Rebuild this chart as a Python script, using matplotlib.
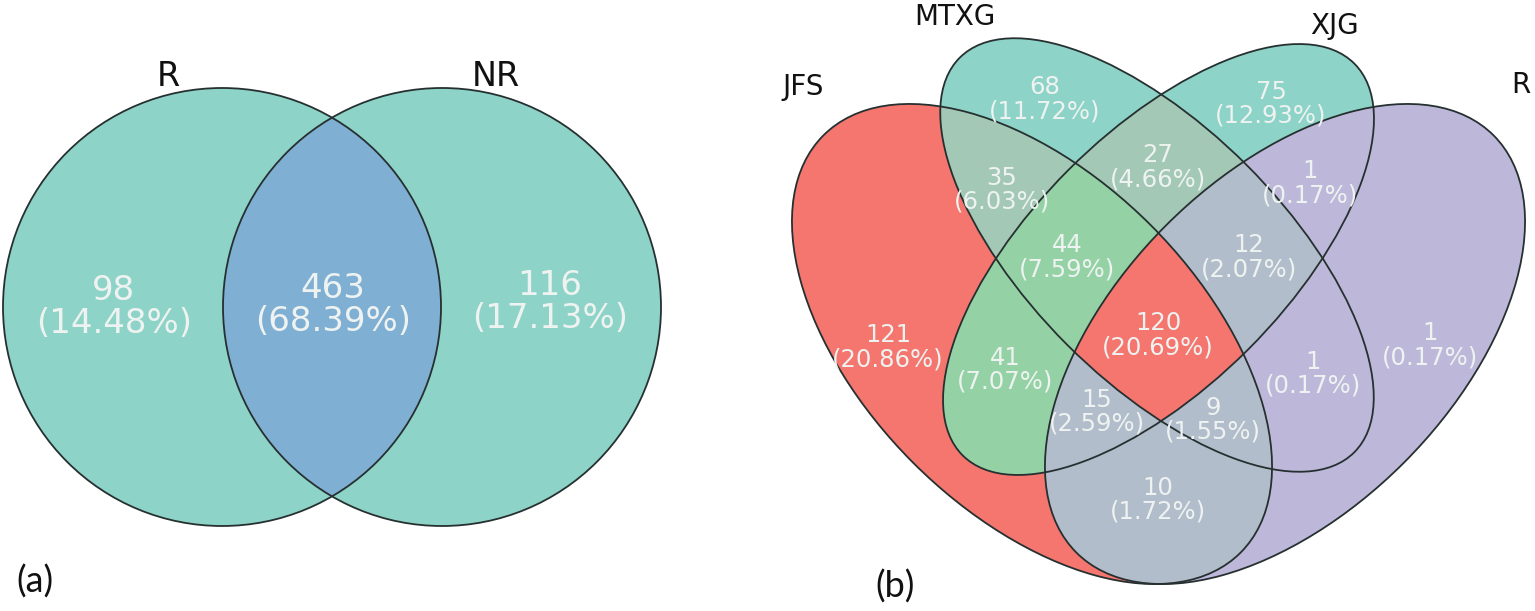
import numpy as np
import matplotlib
matplotlib.use("Agg")
import matplotlib.pyplot as plt
from matplotlib.patches import Circle, Ellipse

# ---- data ----
# panel (a): R only, R & NR, NR only
names_a = ["R", "NR"]
counts_a = [98, 463, 116]

# panel (b): membership keys in order (JFS, MTXG, XJG, R)
names_b = ["JFS", "MTXG", "XJG", "R"]
regions_b = ["1000", "0100", "0010", "0001", "1100", "0110", "0011", "1110",
             "0111", "1111", "1010", "0101", "1011", "1101", "1001"]
counts_b = [121, 68, 75, 1, 35, 27, 1, 44, 12, 120, 41, 1, 15, 9, 10]

# ---- style / layout (pixel units, y down) ----
W, H = 1535, 611
TXT = "#eef3f1"
EDGE = "#263030"

red = "#f4766e"
teal = "#8dd3c7"
green = "#94d2a6"
greygreen = "#a3c8b6"
bluegrey = "#b2bdcb"
lav = "#bdb8da"
region_color = {"1000": red, "0100": teal, "0010": teal, "0001": lav,
                "1100": greygreen, "0110": greygreen, "0011": lav,
                "1110": green, "0111": bluegrey, "1111": red, "1010": green,
                "0101": lav, "1011": bluegrey, "1101": bluegrey, "1001": bluegrey}
label_pos_b = {"1000": (888, 347), "0100": (1045, 99), "0010": (1271, 104),
               "0001": (1430, 345), "1100": (1002, 190), "0110": (1158, 167),
               "0011": (1310, 183), "1110": (1067, 257), "0111": (1249, 257),
               "1111": (1158, 335), "1010": (1005, 370), "0101": (1313, 374),
               "1011": (1097, 412), "1101": (1213, 420), "1001": (1158, 500)}
# ellipses: centre x, centre y, semi-major, semi-minor, angle (data coords, y down)
ellipses = [(1032, 344, 295, 168, 45),
            (1157, 255, 279, 127, 45),
            (1158.5, 259.5, 277, 127, 135),
            (1285, 344, 295, 168, 135)]
name_pos_b = [(803, 87), (955, 17), (1334, 26), (1521, 85)]

circles = [(222, 307, 219), (442, 307, 219)]


def inside(X, Y, e):
    cx, cy, a, b, ang = e
    t = np.deg2rad(ang)
    dx, dy = X - cx, Y - cy
    p = dx * np.cos(t) + dy * np.sin(t)
    q = -dx * np.sin(t) + dy * np.cos(t)
    return (p / a) ** 2 + (q / b) ** 2 <= 1.0


fig = plt.figure(figsize=(W / 100, H / 100), dpi=100)
ax = fig.add_axes([0, 0, 1, 1])
ax.set_axis_off()

# ---- panel (a) ----
for cx, cy, r in circles:
    ax.add_patch(Circle((cx, cy), r, facecolor=teal, edgecolor="none", zorder=1))
lens = Circle(circles[1][:2], circles[1][2], facecolor="#7fafd3", edgecolor="none", zorder=2)
clip = Circle(circles[0][:2], circles[0][2], transform=ax.transData)
ax.add_patch(lens)
lens.set_clip_path(clip)
for cx, cy, r in circles:
    ax.add_patch(Circle((cx, cy), r, facecolor="none", edgecolor=EDGE, lw=1.3, zorder=3))

total_a = sum(counts_a)
pos_a = [(114, 307), (333, 305), (550, 302)]
for (x, y), c in zip(pos_a, counts_a):
    ax.text(x, y, f"{c}\n({c / total_a * 100:.2f}%)", ha="center", va="center",
            fontsize=24.5, color=TXT, linespacing=1.0, zorder=5)
ax.text(168, 77, names_a[0], ha="center", va="center", fontsize=24, color="#111111")
ax.text(496, 77, names_a[1], ha="center", va="center", fontsize=24, color="#111111")

# ---- panel (b) ----
x0, x1, y0, y1 = 770, W, 15, 600
xs = np.arange(x0, x1) + 0.5
ys = np.arange(y0, y1) + 0.5
X, Y = np.meshgrid(xs, ys)
masks = [inside(X, Y, e) for e in ellipses]
img = np.zeros(X.shape + (4,))
for key in regions_b:
    m = np.ones(X.shape, bool)
    for k, ch in enumerate(key):
        m &= masks[k] if ch == "1" else ~masks[k]
    img[m] = matplotlib.colors.to_rgba(region_color[key])
ax.imshow(img, extent=(x0, x1, y1, y0), origin="upper", interpolation="nearest", zorder=1)

for e in ellipses:
    cx, cy, a, b, ang = e
    ax.add_patch(Ellipse((cx, cy), 2 * a, 2 * b, angle=ang, facecolor="none",
                         edgecolor=EDGE, lw=1.3, zorder=3))

total_b = sum(counts_b)
for key, c in zip(regions_b, counts_b):
    x, y = label_pos_b[key]
    ax.text(x, y, f"{c}\n({c / total_b * 100:.2f}%)", ha="center", va="center",
            fontsize=17.5, color=TXT, linespacing=1.0, zorder=5)
for (x, y), n in zip(name_pos_b, names_b):
    ax.text(x, y, n, ha="center", va="center", fontsize=20, color="#111111")

ax.text(35, 582, "(a)", ha="center", va="center", fontsize=26, color="#111111", family="Lato")
ax.text(895, 587, "(b)", ha="center", va="center", fontsize=26, color="#111111", family="Lato")

ax.set_xlim(0, W)
ax.set_ylim(H, 0)
ax.set_aspect("auto")
fig.savefig("out.png", dpi=100, facecolor="white")
